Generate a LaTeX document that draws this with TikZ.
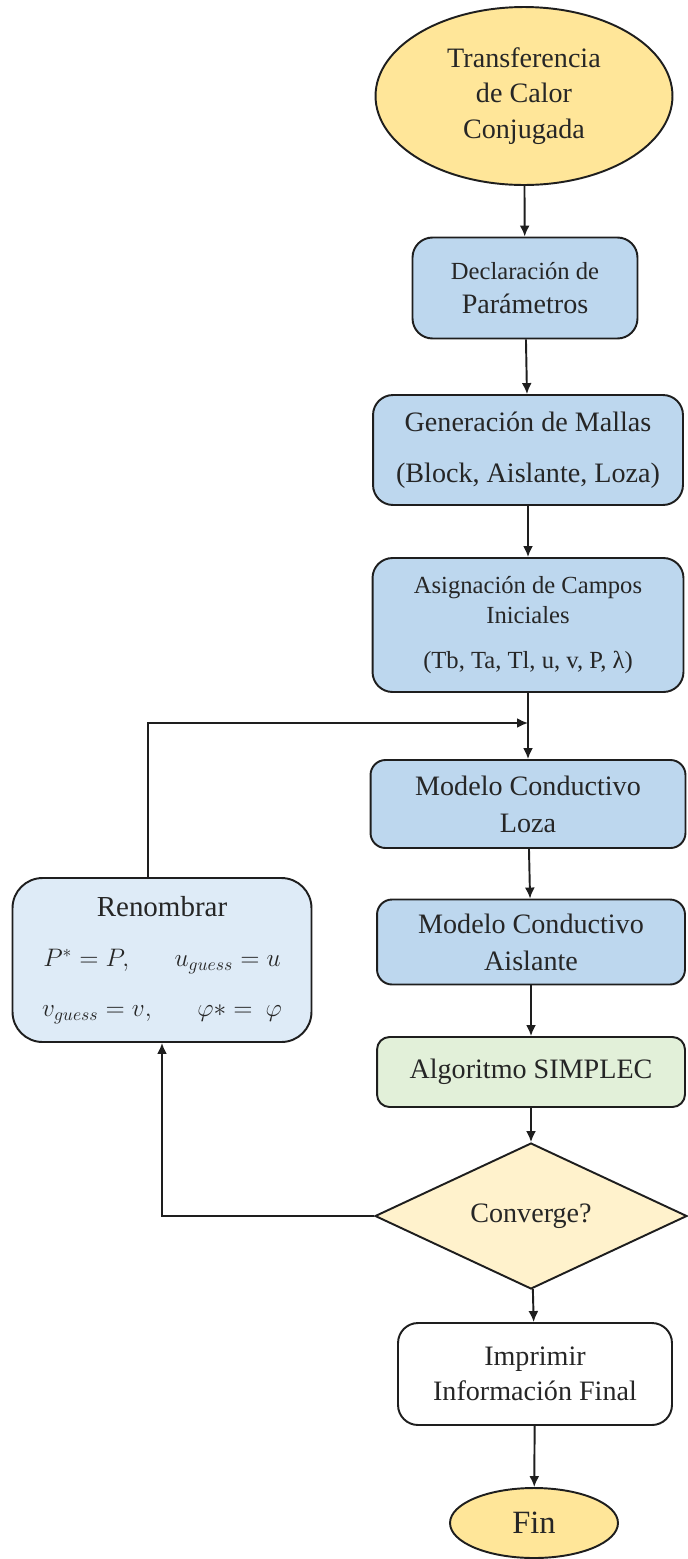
\documentclass[tikz,border=0pt]{standalone}
\usepackage{fontspec}
\setmainfont{LiberationSerif}[Extension=.ttf,UprightFont=*-Regular,BoldFont=*-Bold,ItalicFont=*-Italic,BoldItalicFont=*-BoldItalic]
\usepackage{tikz}
\usetikzlibrary{arrows.meta,shapes.geometric}

\definecolor{termgold}{HTML}{FFE699}
\definecolor{procblue}{HTML}{BDD7EE}
\definecolor{loopblue}{HTML}{DEEBF7}
\definecolor{solvegreen}{HTML}{E2F0D9}
\definecolor{askcream}{HTML}{FFF2CC}
\definecolor{edge}{HTML}{1E1E1E}

\begin{document}
\begin{tikzpicture}[x=0.02cm,y=-0.02cm,>={Latex[length=2.2mm,width=2mm]},
  every node/.style={text=black!85},
  base/.style={draw=edge,line width=1.1pt,align=center,inner sep=0pt},
  term/.style={base,ellipse,fill=termgold},
  proc/.style={base,rounded corners=0.4cm,fill=procblue},
  link/.style={->,draw=edge,line width=1.1pt}]
\useasboundingbox (0,0) rectangle (687,1559);

% main column
\node[term,minimum width=5.94cm,minimum height=3.56cm,font=\fontsize{16}{20}\selectfont]
  (inicio) at (524,96) {Transferencia\\de Calor\\Conjugada};
\node[proc,minimum width=4.5cm,minimum height=2.02cm,font=\fontsize{16}{19.5}\selectfont]
  (decl) at (525,288) {{\fontsize{14}{17}\selectfont Declaración de}\\Parámetros};
\node[proc,minimum width=6.2cm,minimum height=2.2cm,font=\fontsize{16}{29}\selectfont]
  (mallas) at (528,450) {Generación de Mallas\\(Block, Aislante, Loza)};
\node[proc,minimum width=6.22cm,minimum height=2.68cm,font=\fontsize{14}{17}\selectfont]
  (campos) at (528,625) {Asignación de Campos\\Iniciales\\[9pt](Tb, Ta, Tl, u, v, P, λ)};
\node[proc,rounded corners=0.3cm,minimum width=6.3cm,minimum height=1.76cm,font=\fontsize{16}{21}\selectfont]
  (loza) at (528,804) {Modelo Conductivo\\Loza};
\node[proc,rounded corners=0.3cm,minimum width=6.16cm,minimum height=1.7cm,font=\fontsize{16}{21}\selectfont]
  (aislante) at (531,942) {Modelo Conductivo\\Aislante};
\node[base,rounded corners=0.25cm,fill=solvegreen,minimum width=6.16cm,minimum height=1.4cm,font=\fontsize{16}{20}\selectfont]
  (simplec) at (531,1072) {Algoritmo SIMPLEC};
\node[base,diamond,fill=askcream,minimum width=6.24cm,minimum height=2.44cm,font=\fontsize{16}{20}\selectfont]
  (conv) at (531,1216) {Converge?};
\node[base,rounded corners=0.4cm,fill=white,minimum width=5.48cm,minimum height=2.04cm,font=\fontsize{16}{20}\selectfont]
  (imprimir) at (535,1374) {Imprimir\\Información Final};
\node[term,minimum width=3.36cm,minimum height=1.4cm,font=\fontsize{18.5}{22}\selectfont]
  (fin) at (534,1523) {Fin};

% loop box
\node[base,rounded corners=0.6cm,fill=loopblue,minimum width=5.98cm,minimum height=3.28cm,font=\fontsize{16.5}{28.5}\selectfont]
  (ren) at (162,960) {Renombrar\\
  \makebox[4.75cm]{\fontsize{14}{17}\selectfont$P^{*}=P,$\hfill$u_{guess}=u$}\\
  \makebox[4.8cm]{\fontsize{14}{17}\selectfont$v_{guess}=v,$\hfill$\varphi *=\ \varphi$}};

\coordinate (junta) at (528,723);

\draw[link] (inicio) -- (decl);
\draw[link] (decl) -- (mallas);
\draw[link] (mallas) -- (campos);
\draw[link] (campos) -- (loza);
\draw[link] (loza) -- (aislante);
\draw[link] (aislante) -- (simplec);
\draw[link] (simplec) -- (conv);
\draw[link] (conv) -- (imprimir);
\draw[link] (imprimir) -- (fin);
\draw[link] (conv.west) -| (ren.south);
\draw[link] ([xshift=-0.28cm]ren.north) |- (junta);
\end{tikzpicture}
\end{document}
